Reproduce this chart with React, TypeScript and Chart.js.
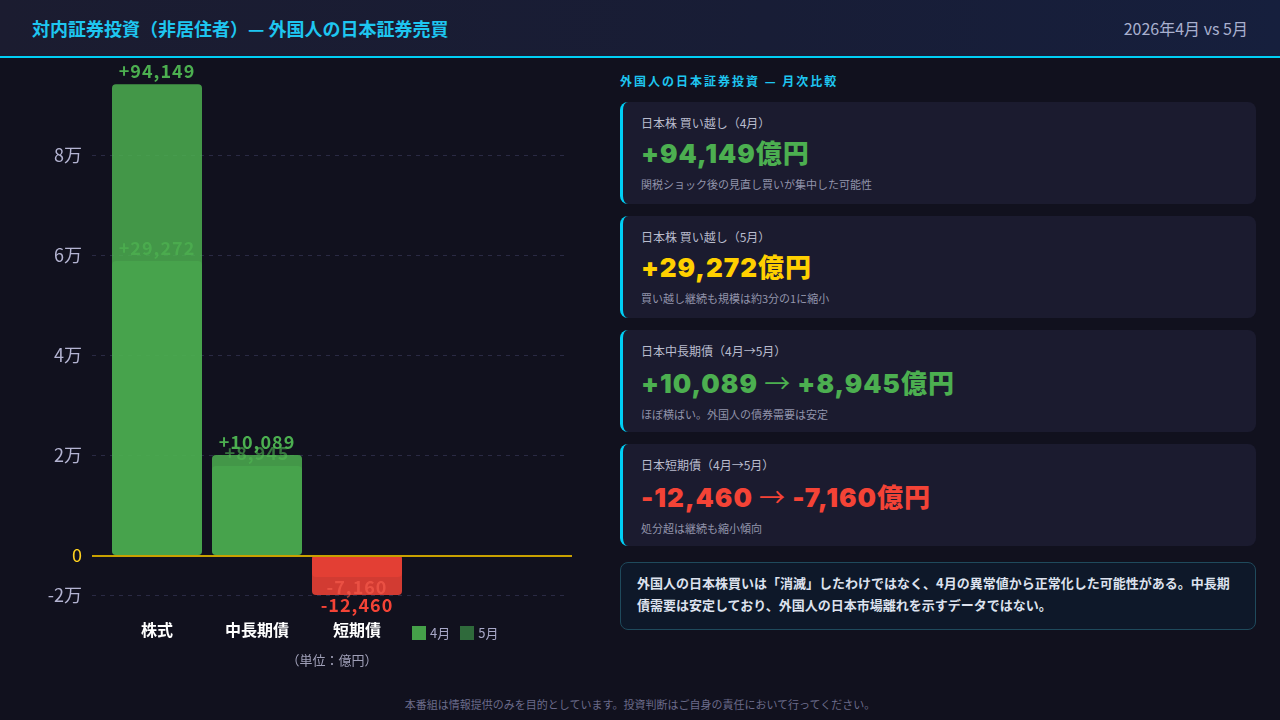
import React, { useEffect, useRef } from 'react';
import { Chart, registerables } from 'chart.js';

Chart.register(...registerables);

// ---- data ----
const CATEGORIES = ['株式', '中長期債', '短期債'];
const SERIES_NAMES = ['4月', '5月'];
// bar heights as plotted in the reference, read against its axis
const APRIL_VALUES = [94149, 20000, -8000];
const MAY_VALUES = [58800, 17800, -4400];
// printed value labels
const APRIL_LABELS = ['+94,149', '+10,089', '-12,460'];
const MAY_LABELS = ['+29,272', '+8,945', '-7,160'];
// y axis ticks as drawn in the reference
const Y_TICK_VALUES = [-8000, 0, 20000, 40000, 60000, 80000];
const Y_TICK_LABELS = ['-2万', '0', '2万', '4万', '6万', '8万'];
const Y_MIN = -8000;
const Y_MAX = 96000;

const CARDS = [
  { label: '日本株 買い越し（4月）', value: '+94,149億円', color: '#4caf50', desc: '関税ショック後の見直し買いが集中した可能性' },
  { label: '日本株 買い越し（5月）', value: '+29,272億円', color: '#ffd000', desc: '買い越し継続も規模は約3分の1に縮小' },
  { label: '日本中長期債（4月→5月）', value: '+10,089 → +8,945億円', color: '#4caf50', desc: 'ほぼ横ばい。外国人の債券需要は安定' },
  { label: '日本短期債（4月→5月）', value: '-12,460 → -7,160億円', color: '#f44336', desc: '処分超は継続も縮小傾向' },
];

const FONT = '"Noto Sans CJK JP", "Noto Sans", sans-serif';
const NUM_FONT = 'Inter, "Noto Sans CJK JP", sans-serif';

const GREEN_APR = 'rgba(76,175,80,0.85)';
const GREEN_MAY = 'rgba(76,175,80,0.5)';
const RED_APR = 'rgba(244,67,54,0.85)';
const RED_MAY = 'rgba(244,67,54,0.5)';

const overlayPlugin = {
  id: 'overlay',
  beforeDatasetsDraw(chart: any) {
    const { ctx } = chart;
    const y = chart.scales.y;
    ctx.save();
    ctx.strokeStyle = '#2a2a44';
    ctx.lineWidth = 1;
    ctx.setLineDash([4, 5]);
    Y_TICK_VALUES.forEach((v) => {
      if (v === 0) return;
      const py = Math.round(y.getPixelForValue(v)) + 0.5;
      ctx.beginPath();
      ctx.moveTo(92, py);
      ctx.lineTo(568, py);
      ctx.stroke();
    });
    ctx.restore();
  },
  afterDatasetsDraw(chart: any) {
    const { ctx } = chart;
    const y = chart.scales.y;
    ctx.save();
    const p0 = Math.round(y.getPixelForValue(0));
    ctx.fillStyle = '#c9a100';
    ctx.fillRect(92, p0, 480, 2);

    const sets = [
      { idx: 0, labels: APRIL_LABELS, pos: '#4caf50', neg: '#f44336' },
      { idx: 1, labels: MAY_LABELS, pos: 'rgba(80,185,84,0.6)', neg: 'rgba(250,95,80,0.6)' },
    ];
    ctx.font = `bold 18px ${FONT}`;
    (ctx as any).letterSpacing = '1px';
    ctx.textAlign = 'center';
    ctx.textBaseline = 'alphabetic';
    sets.forEach((s) => {
      const meta = chart.getDatasetMeta(s.idx);
      const data = chart.data.datasets[s.idx].data as number[];
      meta.data.forEach((el: any, i: number) => {
        const v = data[i];
        if (v >= 0) {
          ctx.fillStyle = s.pos;
          ctx.fillText(s.labels[i], el.x, el.y - 6);
        } else {
          ctx.fillStyle = s.neg;
          ctx.fillText(s.labels[i], el.x, el.y + 17);
        }
      });
    });
    ctx.restore();
  },
};

function BarChart() {
  const ref = useRef<HTMLCanvasElement>(null);
  useEffect(() => {
    if (!ref.current) return;
    const chart = new Chart(ref.current, {
      type: 'bar',
      data: {
        labels: CATEGORIES,
        datasets: [
          {
            label: SERIES_NAMES[0],
            data: APRIL_VALUES,
            backgroundColor: APRIL_VALUES.map((v) => (v >= 0 ? GREEN_APR : RED_APR)),
            grouped: false,
            order: 2,
            barPercentage: 0.9,
            categoryPercentage: 1,
            borderRadius: 4,
            borderSkipped: false,
          } as any,
          {
            label: SERIES_NAMES[1],
            data: MAY_VALUES,
            backgroundColor: MAY_VALUES.map((v) => (v >= 0 ? GREEN_MAY : RED_MAY)),
            grouped: false,
            order: 1,
            barPercentage: 0.9,
            categoryPercentage: 1,
            borderRadius: 4,
            borderSkipped: false,
          } as any,
        ],
      },
      options: {
        responsive: false,
        animation: false,
        devicePixelRatio: 1,
        layout: { padding: { top: 17, right: 193, left: 0, bottom: 0 } },
        plugins: { legend: { display: false }, tooltip: { enabled: false } },
        scales: {
          x: {
            grid: { display: false, drawTicks: false },
            border: { display: false },
            ticks: {
              color: '#ffffff',
              padding: 25,
              font: { family: FONT, size: 16, weight: 'bold' },
            },
            afterFit: (s: any) => {
              s.height = 85;
              s.paddingLeft = 0;
              s.paddingRight = 0;
            },
          },
          y: {
            min: Y_MIN,
            max: Y_MAX,
            grid: { display: false, drawTicks: false },
            border: { display: false },
            afterBuildTicks: (s: any) => {
              s.ticks = Y_TICK_VALUES.map((v) => ({ value: v }));
            },
            ticks: {
              padding: 25,
              color: (c: any) => (c.tick && c.tick.value === 0 ? '#ffd21f' : '#b4b4d2'),
              font: { family: FONT, size: 18 },
              callback: (_v: any, i: number) => Y_TICK_LABELS[i] ?? '',
            },
            afterFit: (s: any) => {
              s.width = 107;
              s.paddingTop = 0;
              s.paddingBottom = 0;
            },
          },
        },
      } as any,
      plugins: [overlayPlugin],
    });
    return () => chart.destroy();
  }, []);
  return (
    <canvas
      ref={ref}
      width={600}
      height={622}
      style={{ position: 'absolute', left: 0, top: 58, width: 600, height: 622 }}
    />
  );
}

function CardValue({ text }: { text: string }) {
  const parts = text.split('→');
  return (
    <>
      {parts.map((p, i) => (
        <React.Fragment key={i}>
          {i > 0 && <span style={{ fontFamily: FONT, fontWeight: 400 }}>→</span>}
          {p}
        </React.Fragment>
      ))}
    </>
  );
}

export default function App() {
  return (
    <div
      style={{
        position: 'fixed',
        left: 0,
        top: 0,
        width: 1280,
        height: 720,
        background: '#11111e',
        fontFamily: FONT,
        overflow: 'hidden',
      }}
    >
      <div
        style={{
          position: 'absolute',
          left: 0,
          top: 0,
          width: 1280,
          height: 56,
          background: 'linear-gradient(90deg, #1b1c30 0%, #181d36 60%, #161f3d 100%)',
          borderBottom: '2px solid #00cff5',
        }}
      >
        <div
          style={{
            position: 'absolute',
            left: 32,
            top: 16,
            lineHeight: '24px',
            fontSize: 18,
            fontWeight: 700,
            color: '#1ec6f0',
            whiteSpace: 'nowrap',
          }}
        >
          対内証券投資（非居住者）— 外国人の日本証券売買
        </div>
        <div
          style={{
            position: 'absolute',
            right: 32,
            top: 16,
            lineHeight: '24px',
            fontSize: 16,
            color: '#a9b0cf',
            whiteSpace: 'nowrap',
          }}
        >
          2026年4月 vs 5月
        </div>
      </div>

      <BarChart />

      <div
        style={{
          position: 'absolute',
          left: 412,
          top: 624,
          display: 'flex',
          alignItems: 'center',
          gap: 10,
          fontSize: 13,
          lineHeight: '18px',
          color: '#a8a8c8',
        }}
      >
        <div style={{ display: 'flex', alignItems: 'center', gap: 4 }}>
          <span style={{ width: 14, height: 14, background: '#45a049', display: 'inline-block' }} />
          <span>{SERIES_NAMES[0]}</span>
        </div>
        <div style={{ display: 'flex', alignItems: 'center', gap: 4 }}>
          <span style={{ width: 14, height: 14, background: '#2f6a3b', display: 'inline-block' }} />
          <span>{SERIES_NAMES[1]}</span>
        </div>
      </div>

      <div
        style={{
          position: 'absolute',
          left: 92,
          width: 480,
          top: 651,
          textAlign: 'center',
          fontSize: 13,
          lineHeight: '18px',
          color: '#a0a0b8',
        }}
      >
        （単位：億円）
      </div>

      <div style={{ position: 'absolute', left: 620, top: 72, width: 636 }}>
        <div
          style={{
            fontSize: 12,
            lineHeight: '18px',
            fontWeight: 700,
            letterSpacing: '2px',
            color: '#1ec6f0',
            whiteSpace: 'nowrap',
          }}
        >
          外国人の日本証券投資 — 月次比較
        </div>
      </div>

      <div
        style={{
          position: 'absolute',
          left: 620,
          top: 102,
          width: 636,
          display: 'flex',
          flexDirection: 'column',
          gap: 12,
        }}
      >
        {CARDS.map((c, i) => (
          <div
            key={i}
            style={{
              height: 102,
              boxSizing: 'border-box',
              background: '#1b1b2f',
              borderRadius: 8,
              borderLeft: '3px solid #00cff5',
              padding: '12px 18px',
            }}
          >
            <div style={{ fontSize: 12, lineHeight: '18px', color: '#b9bccd', whiteSpace: 'nowrap' }}>{c.label}</div>
            <div
              style={{
                marginTop: 4,
                fontSize: 26,
                lineHeight: '36px',
                fontWeight: 900,
                letterSpacing: '1px',
                fontFamily: NUM_FONT,
                color: c.color,
                whiteSpace: 'nowrap',
              }}
            >
              <CardValue text={c.value} />
            </div>
            <div style={{ marginTop: 4, fontSize: 11, lineHeight: '16px', color: '#9294ab', whiteSpace: 'nowrap' }}>
              {c.desc}
            </div>
          </div>
        ))}
      </div>

      <div
        style={{
          position: 'absolute',
          left: 620,
          top: 562,
          width: 636,
          height: 68,
          boxSizing: 'border-box',
          background: '#0e1829',
          border: '1px solid #1f4a5c',
          borderRadius: 8,
          padding: '9px 16px',
          fontSize: 13,
          lineHeight: '22px',
          fontWeight: 700,
          color: '#dde2ee',
          whiteSpace: 'nowrap',
        }}
      >
        外国人の日本株買いは「消滅」したわけではなく、4月の異常値から正常化した可能性がある。中長期
        <br />
        債需要は安定しており、外国人の日本市場離れを示すデータではない。
      </div>

      <div
        style={{
          position: 'absolute',
          left: 0,
          top: 696,
          width: 1280,
          textAlign: 'center',
          fontSize: 11,
          lineHeight: '16px',
          color: '#6b6b8a',
        }}
      >
        本番組は情報提供のみを目的としています。投資判断はご自身の責任において行ってください。
      </div>
    </div>
  );
}
